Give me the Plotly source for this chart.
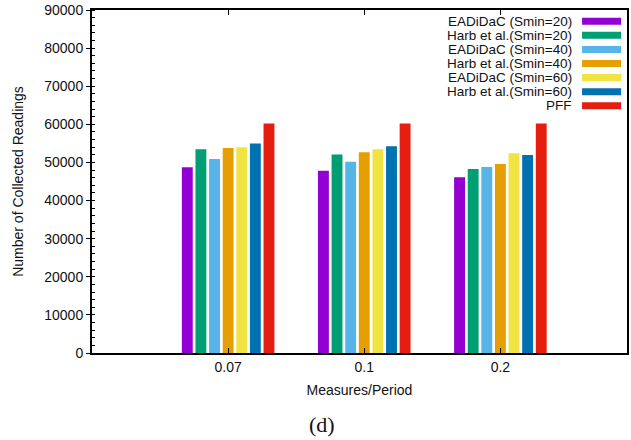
import plotly.graph_objects as go

categories = ["0.07", "0.1", "0.2"]
series_names = [
    "EADiDaC (Smin=20)",
    "Harb et al.(Smin=20)",
    "EADiDaC (Smin=40)",
    "Harb et al.(Smin=40)",
    "EADiDaC (Smin=60)",
    "Harb et al.(Smin=60)",
    "PFF",
]
eadidac_20 = [48750, 47850, 46100]
harb_20 = [53450, 52100, 48300]
eadidac_40 = [50900, 50200, 48800]
harb_40 = [53800, 52650, 49600]
eadidac_60 = [54000, 53450, 52400]
harb_60 = [54950, 54250, 51950]
pff = [60250, 60250, 60250]
series_values = [eadidac_20, harb_20, eadidac_40, harb_40, eadidac_60, harb_60, pff]
colors = ["#9400d3", "#009e73", "#56b4e9", "#e69f00", "#f0e442", "#0072b2", "#e51e10"]
y_ticks = [0, 10000, 20000, 30000, 40000, 50000, 60000, 70000, 80000, 90000]
y_tick_labels = [str(v) for v in y_ticks]

xpos = list(range(len(categories)))
FONT = "Liberation Sans, Arial, sans-serif"

fig = go.Figure()
for name, vals, c in zip(series_names, series_values, colors):
    fig.add_trace(go.Bar(x=xpos, y=vals, name=name, marker=dict(color=c, line=dict(width=0)),
                         showlegend=False))

# custom legend: text right-aligned, swatch on the right
top_y = 0.9674
step = 0.0411
for i, (name, c) in enumerate(zip(series_names, colors)):
    yy = top_y - i * step
    fig.add_annotation(xref="paper", yref="paper", x=0.8994, y=yy, text=name,
                       showarrow=False, xanchor="right", yanchor="middle", borderpad=0,
                       font=dict(family=FONT, size=13.5, color="#111"))
    fig.add_shape(type="rect", xref="paper", yref="paper", x0=0.916, x1=0.989,
                  y0=yy - 0.0102, y1=yy + 0.0102, fillcolor=c, line=dict(width=0))

fig.add_annotation(xref="paper", yref="paper", x=0.430, y=-0.207, text="(d)",
                   showarrow=False, xanchor="center", yanchor="middle",
                   font=dict(family="Liberation Serif, Times New Roman, serif", size=22, color="#111"))

fig.update_layout(
    width=631, height=440,
    margin=dict(l=92, r=2, t=10, b=87),
    plot_bgcolor="white", paper_bgcolor="white",
    barmode="group", bargap=0.3, bargroupgap=0.2,
    font=dict(family=FONT, size=14, color="#111"),
)
fig.update_xaxes(
    range=[-1, 2.93], tickvals=xpos, ticktext=categories,
    showline=True, linecolor="black", linewidth=2, mirror="ticks",
    ticks="inside", ticklen=5, tickcolor="black",
    showgrid=False, zeroline=False,
    title=dict(text="Measures/Period", standoff=11, font=dict(size=14)),
)
fig.update_yaxes(
    range=[0, 90000], tickvals=y_ticks, ticktext=y_tick_labels,
    showline=True, linecolor="black", linewidth=2, mirror=True,
    ticks="outside", ticklen=4, tickcolor="black",
    minor=dict(ticks="inside", ticklen=3, dtick=2000, tickcolor="black", showgrid=False),
    showgrid=False, zeroline=False,
    title=dict(text="Number of Collected Readings", standoff=17, font=dict(size=14)),
)

fig.write_html("out.html")
